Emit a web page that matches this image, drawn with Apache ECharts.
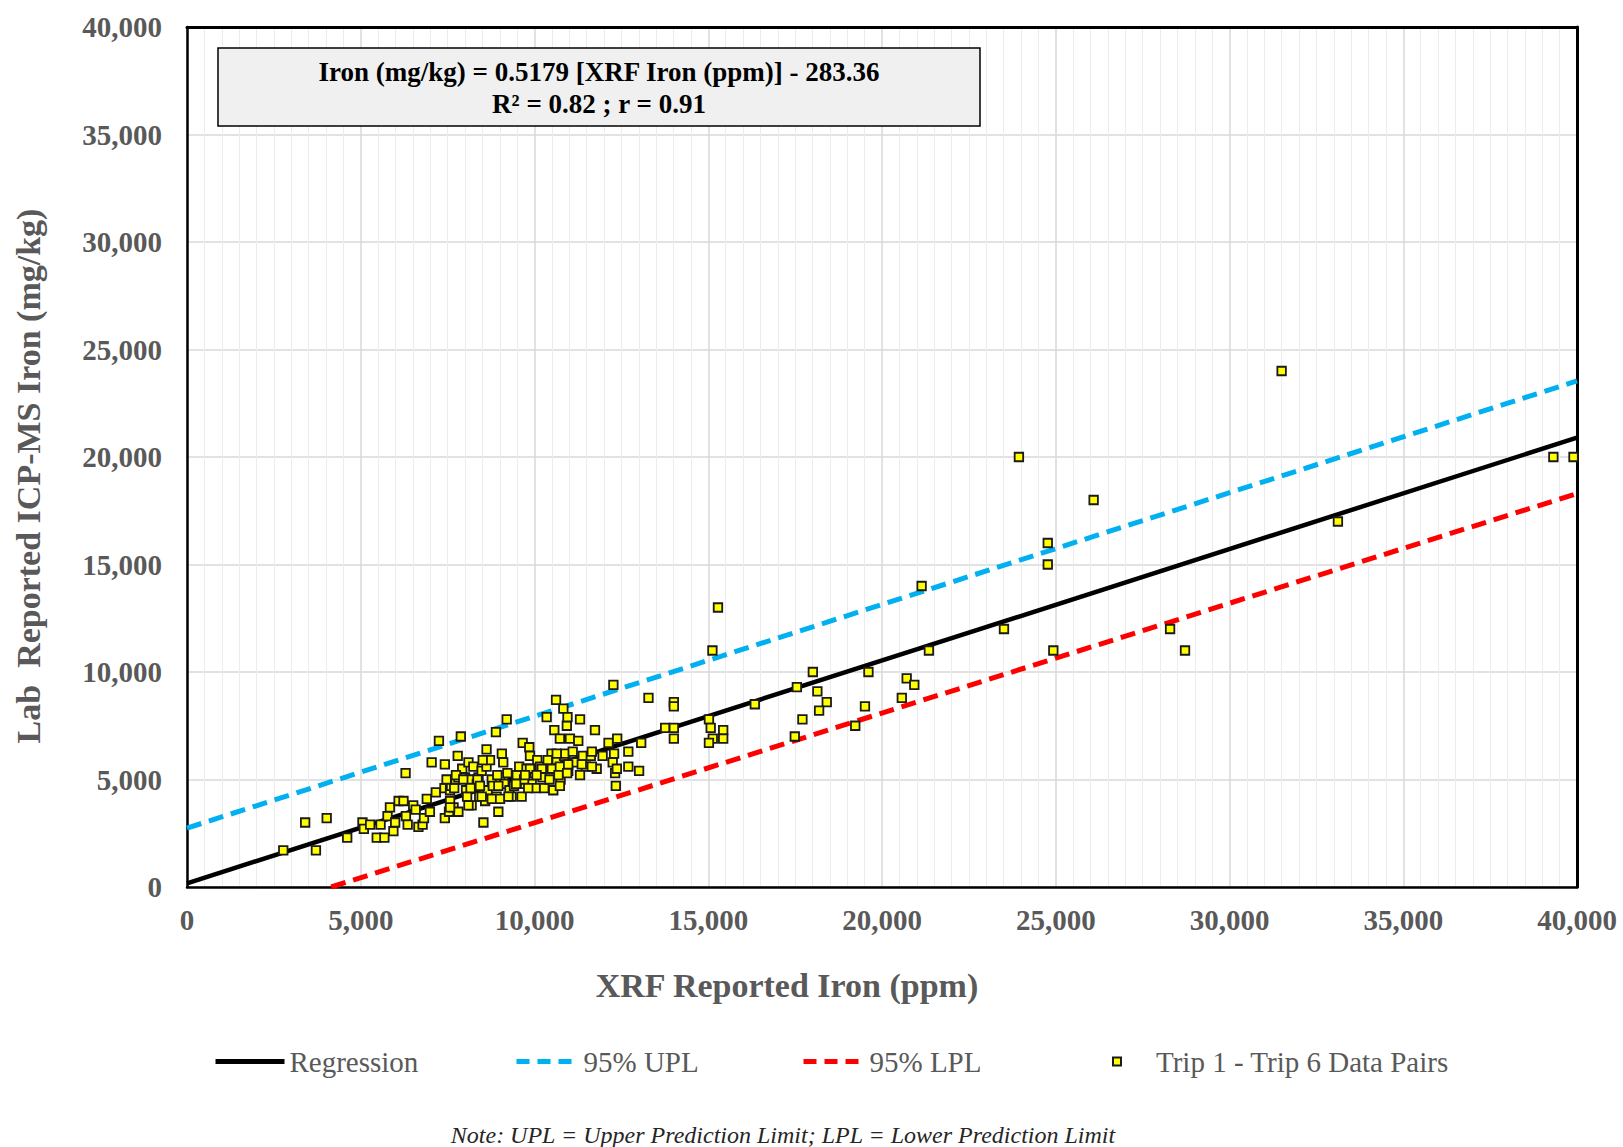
<!DOCTYPE html>
<html>
<head>
<meta charset="utf-8">
<title>XRF vs Lab ICP-MS Iron</title>
<script src="https://cdn.jsdelivr.net/npm/echarts@6/dist/echarts.min.js"></script>
<style>
  html, body { margin: 0; padding: 0; background: #ffffff; }
  #chart { width: 1623px; height: 1147px; }
</style>
</head>
<body>
<div id="chart"></div>
<script>
// XRF reported iron (ppm) for each Trip 1 - Trip 6 sample
const xrfIron = [
  2770, 3400, 3710, 4020, 4610, 5050, 5090, 5270, 5460, 5570, 5680, 5770, 5840, 5940, 5990,
  6090, 6230, 6290, 6300, 6350, 6510, 6580, 6660, 6780, 6820, 6990, 6900, 7040, 7160, 7250,
  7420, 7420, 7410, 7540, 7570, 7600, 7670, 7690, 7730, 7790, 7810, 7810, 7880, 7920, 8000,
  8030, 8060, 8100, 8140, 8190, 8240, 8340, 8390, 8410, 8480, 8530, 8580, 8620, 8620, 8650,
  8720, 8770, 8800, 8890, 8910, 8960, 9010, 9060, 9100, 9130, 9200, 9220, 9280, 9340, 9410,
  9490, 9560, 9630, 9660, 9730, 9770, 9850, 9870, 9920, 10000, 10030, 10080, 10160, 10230, 10280,
  10350, 10380, 10450, 10490, 10540, 10570, 10620, 10640, 10690, 10730, 10750, 10830, 10850, 10880, 10930,
  10950, 10970, 11020, 11100, 11170, 11260, 11310, 11390, 11480, 11620, 11740, 11790, 11960, 12130, 12250,
  12270, 12290, 12320, 12340, 12380, 12700, 12700, 13010, 13070, 13280, 13760,
  8510, 7740, 7470, 8360, 8930, 9700, 7950, 8160, 8430, 8960, 7570, 8480, 8770, 9010, 9250,
  7570, 8100, 10640, 11650, 10380, 9870, 10210, 10500, 10730, 10970, 11360, 11650, 12370, 9730, 10060,
  10430, 10690, 10940, 11310, 9470, 9820, 10730,
  14010, 14010, 14010, 14010, 15020, 15070, 15430, 15430, 15130, 15020, 16340, 17550, 18010, 18140, 18410,
  18190, 17710, 17490, 19230, 19510, 19610, 20570, 20710, 20930, 21350, 21140, 15280, 15120,
  31500, 23940, 39320, 39900, 26090, 24770, 24770, 33120, 23510, 24930, 28290, 28720
];

// Lab reported ICP-MS iron (mg/kg) for the same samples
const labIron = [
  1700, 3000, 1700, 3200, 2300, 3000, 2700, 2900, 2300, 2900, 2300, 3300, 3700, 2600, 3000,
  4000, 4000, 5300, 3300, 2900, 3800, 3600, 2800, 2900, 3200, 3500, 4100, 5800, 4400, 6800,
  5700, 3200, 4600, 3500, 4500, 4700, 3700, 4600, 5000, 6100, 5100, 3500, 7000, 5500, 5100,
  4500, 4200, 5800, 5000, 3800, 5600, 4800, 5100, 4200, 5400, 3000, 4000, 6400, 5600, 4500,
  5900, 5000, 4700, 7200, 4200, 3500, 5100, 6200, 5800, 4800, 7800, 5300, 4500, 4200, 4700,
  5200, 5600, 4200, 6700, 4800, 5500, 6500, 6100, 4800, 5300, 4600, 5900, 5600, 5100, 4600,
  7900, 5500, 5200, 6200, 4500, 7300, 8700, 5900, 5500, 6900, 5000, 8300, 6100, 6200, 7500,
  7900, 5400, 6900, 6300, 5800, 6800, 7800, 6100, 5600, 6100, 7300, 5500, 6100, 6700, 5800,
  9400, 6200, 5300, 4700, 6900, 6300, 5600, 5400, 6700, 8800, 7400,
  5900, 5200, 5000, 5000, 5200, 5000, 5000, 4600, 4700, 4700, 4000, 4200, 4100, 4100, 4200,
  3700, 3800, 6200, 6300, 5900, 5500, 5500, 5500, 5600, 5700, 5700, 5600, 5500, 5200, 5200,
  5000, 5200, 5300, 5200, 4800, 4600, 4700,
  8600, 8400, 7400, 6900, 7800, 7400, 7300, 6900, 6900, 6700, 8500, 9300, 10000, 9100, 8600,
  8200, 7800, 7000, 7500, 8400, 10000, 8800, 9700, 9400, 11000, 14000, 13000, 11000,
  24000, 20000, 20000, 20000, 18000, 16000, 15000, 17000, 12000, 11000, 12000, 11000
];

// Fitted regression line and 95% prediction limits (end points)
const regressionX = [0, 40000];
const regressionY = [170, 20900];
const uplX = [0, 40000];
const uplY = [2740, 23540];
const lplX = [4150, 40000];
const lplY = [0, 18300];

const axisMin = 0;
const axisMax = 40000;
const axisStep = 5000;

const zip = (xs, ys) => xs.map((x, i) => [x, ys[i]]);
const fmt = v => v.toLocaleString('en-US');

const serif = '"Liberation Serif", "Times New Roman", serif';
const grey = '#595959';

const chart = echarts.init(document.getElementById('chart'), null, { renderer: 'svg' });

const legendText = { fontFamily: serif, fontSize: 29, color: grey };
// line legends show only the stroke, no centre dot
const hiddenDot = { color: 'rgba(0,0,0,0)', borderWidth: 0, opacity: 0 };

const tickLabel = { color: grey, fontFamily: serif, fontWeight: 'bold', fontSize: 29, formatter: fmt };

// frame edges on the opposite sides of the plot
const frameAxis = {
  type: 'value', min: axisMin, max: axisMax, interval: axisStep,
  axisLine: { show: true, onZero: false, lineStyle: { color: '#000000', width: 3 } },
  axisTick: { show: false }, axisLabel: { show: false }, splitLine: { show: false }
};

chart.setOption({
  animation: false,
  backgroundColor: '#ffffff',
  grid: { left: 187, top: 27, width: 1390, height: 860 },
  xAxis: [
    {
      type: 'value', min: axisMin, max: axisMax, interval: axisStep,
      axisLine: { show: true, onZero: false, lineStyle: { color: '#000000', width: 2.5 } },
      axisTick: { show: false },
      axisLabel: Object.assign({ margin: 18 }, tickLabel),
      splitLine: { show: true, lineStyle: { color: '#d9d9d9', width: 1.5 } },
      minorTick: { show: false, splitNumber: 10 },
      minorSplitLine: { show: true, lineStyle: { color: '#ececec', width: 1 } }
    },
    Object.assign({ position: 'top' }, frameAxis)
  ],
  yAxis: [
    {
      type: 'value', min: axisMin, max: axisMax, interval: axisStep,
      axisLine: { show: true, onZero: false, lineStyle: { color: '#000000', width: 2.5 } },
      axisTick: { show: false },
      axisLabel: Object.assign({ margin: 25 }, tickLabel),
      splitLine: { show: true, lineStyle: { color: '#d9d9d9', width: 1.5 } }
    },
    Object.assign({ position: 'right' }, frameAxis)
  ],
  legend: [
    { data: ['Regression'], left: 213, top: 1047, padding: 0, itemWidth: 69, itemHeight: 14,
      itemStyle: hiddenDot, lineStyle: { width: 5 }, textStyle: legendText },
    { data: ['95% UPL'], left: 514, top: 1047, padding: 0, itemWidth: 62, itemHeight: 14,
      itemStyle: hiddenDot, lineStyle: { width: 5, type: [13, 8] }, textStyle: legendText },
    { data: ['95% LPL'], left: 801, top: 1047, padding: 0, itemWidth: 61, itemHeight: 14,
      itemStyle: hiddenDot, lineStyle: { width: 5, type: [13, 8] }, textStyle: legendText },
    { data: ['Trip 1 - Trip 6 Data Pairs'], left: 1112, top: 1047, padding: 0, itemWidth: 8, itemHeight: 8,
      textStyle: Object.assign({ padding: [0, 0, 0, 30] }, legendText) }
  ],
  series: [
    {
      name: 'Regression', type: 'line', data: zip(regressionX, regressionY),
      symbol: 'none', lineStyle: { color: '#000000', width: 4.5 }, itemStyle: { color: '#000000' }, z: 2
    },
    {
      name: '95% UPL', type: 'line', data: zip(uplX, uplY),
      symbol: 'none', lineStyle: { color: '#00b0f0', width: 5, type: [15, 8] }, itemStyle: { color: '#00b0f0' }, z: 2
    },
    {
      name: '95% LPL', type: 'line', data: zip(lplX, lplY),
      symbol: 'none', lineStyle: { color: '#ff0000', width: 5, type: [15, 8] }, itemStyle: { color: '#ff0000' }, z: 2
    },
    {
      name: 'Trip 1 - Trip 6 Data Pairs', type: 'scatter', data: zip(xrfIron, labIron),
      symbol: 'rect', symbolSize: 8.5,
      itemStyle: { color: '#ffff00', borderColor: '#1a1a1a', borderWidth: 1.8, opacity: 1 }, z: 3
    }
  ],
  graphic: [
    {
      type: 'rect', x: 218, y: 48, z: 10,
      shape: { x: 0, y: 0, width: 762, height: 78 },
      style: { fill: '#f0f0f0', stroke: '#000000', lineWidth: 1.5 }
    },
    {
      type: 'text', x: 599, y: 72, z: 11,
      style: { text: 'Iron (mg/kg) = 0.5179 [XRF Iron (ppm)] - 283.36', font: 'bold 27px ' + serif,
               fill: '#000000', align: 'center', verticalAlign: 'middle' }
    },
    {
      type: 'text', x: 599, y: 104, z: 11,
      style: { text: 'R² = 0.82 ; r = 0.91', font: 'bold 27px ' + serif,
               fill: '#000000', align: 'center', verticalAlign: 'middle' }
    },
    {
      type: 'text', x: 787, y: 985, z: 11,
      style: { text: 'XRF Reported Iron (ppm)', font: 'bold 34px ' + serif,
               fill: grey, align: 'center', verticalAlign: 'middle' }
    },
    {
      type: 'text', x: 28, y: 476, rotation: Math.PI / 2, z: 11,
      style: { text: 'Lab  Reported ICP-MS Iron (mg/kg)', font: 'bold 34px ' + serif,
               fill: grey, align: 'center', verticalAlign: 'middle' }
    },
    {
      type: 'text', x: 783, y: 1135, z: 11,
      style: { text: 'Note: UPL = Upper Prediction Limit; LPL = Lower Prediction Limit', font: 'italic 24px ' + serif,
               fill: '#262626', align: 'center', verticalAlign: 'middle' }
    }
  ]
});
</script>
</body>
</html>
